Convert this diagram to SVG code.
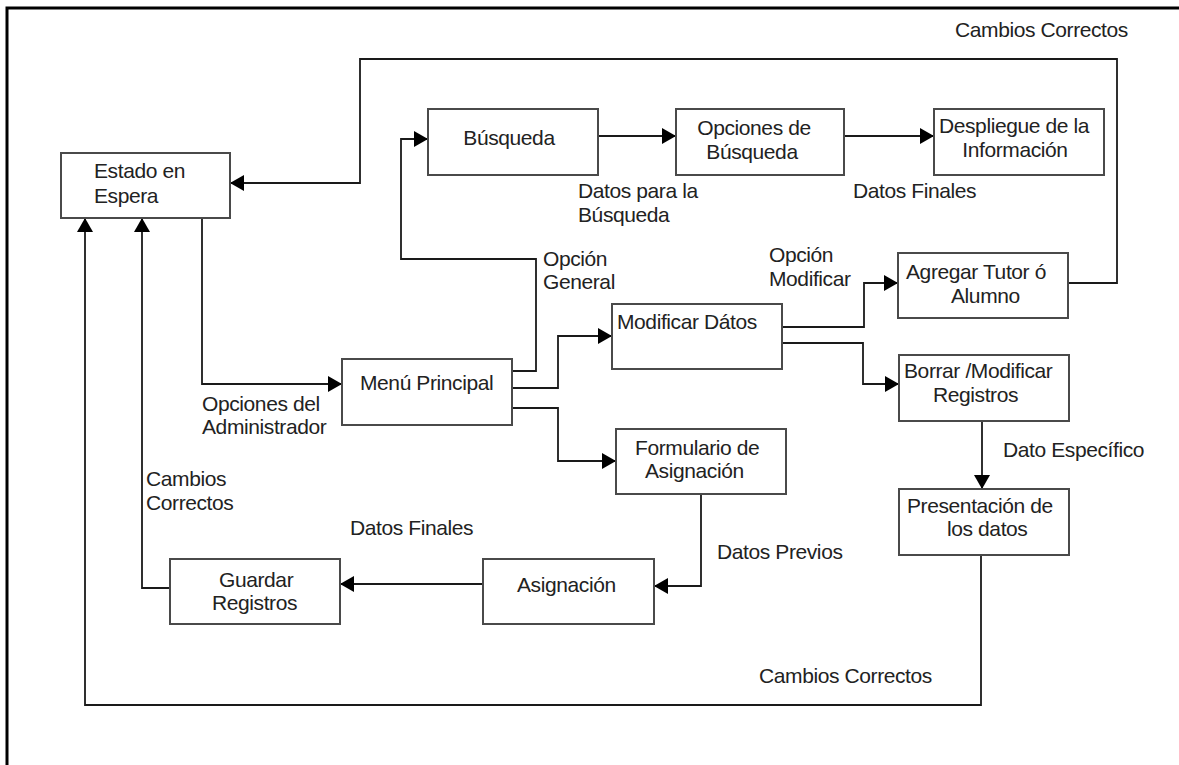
<svg xmlns="http://www.w3.org/2000/svg" width="1179" height="765" viewBox="0 0 1179 765">
<style>
.box{fill:#fff;stroke:#4a4a4a;stroke-width:2}
.con{fill:none;stroke:#1a1a1a;stroke-width:1.8}
text{font-family:"Liberation Sans",Arial,sans-serif;font-size:21px;letter-spacing:-0.4px;fill:#222}
.m{text-anchor:middle}
</style>
<defs>
<marker id="ah" viewBox="0 0 14 16" refX="14" refY="8" markerWidth="14" markerHeight="16" markerUnits="userSpaceOnUse" orient="auto">
<path d="M0,0 L14,8 L0,16 z" fill="#000"/>
</marker>
</defs>
<rect width="1179" height="765" fill="#fff"/>
<path d="M7,765 V8 H1179" fill="none" stroke="#000" stroke-width="3"/>

<g id="connectors">
<path class="con" d="M1068,283 H1117 V59 H360 V183 H230" marker-end="url(#ah)"/>
<path class="con" d="M202,218 V384 H342" marker-end="url(#ah)"/>
<path class="con" d="M512,371 H536 V259 H401 V139 H428" marker-end="url(#ah)"/>
<path class="con" d="M598,136 H676" marker-end="url(#ah)"/>
<path class="con" d="M844,136 H934" marker-end="url(#ah)"/>
<path class="con" d="M512,388 H558 V336 H612" marker-end="url(#ah)"/>
<path class="con" d="M512,408 H558 V461 H616" marker-end="url(#ah)"/>
<path class="con" d="M782,327 H864 V283 H898" marker-end="url(#ah)"/>
<path class="con" d="M782,343 H863 V384 H899" marker-end="url(#ah)"/>
<path class="con" d="M982,421 V489" marker-end="url(#ah)"/>
<path class="con" d="M981,555 V705 H85 V218" marker-end="url(#ah)"/>
<path class="con" d="M701,494 V586 H654" marker-end="url(#ah)"/>
<path class="con" d="M483,584 H340" marker-end="url(#ah)"/>
<path class="con" d="M170,588 H142 V218" marker-end="url(#ah)"/>
</g>

<g id="labels">
<text x="955" y="37">Cambios Correctos</text>
<text x="578" y="198">Datos para la</text>
<text x="578" y="222">Búsqueda</text>
<text x="853" y="198">Datos Finales</text>
<text x="543" y="266">Opción</text>
<text x="543" y="289">General</text>
<text x="769" y="262">Opción</text>
<text x="769" y="286">Modificar</text>
<text x="202" y="411">Opciones del</text>
<text x="202" y="434">Administrador</text>
<text x="146" y="486">Cambios</text>
<text x="146" y="510">Correctos</text>
<text x="350" y="535">Datos Finales</text>
<text x="717" y="559">Datos Previos</text>
<text x="1003" y="457">Dato Específico</text>
<text x="759" y="683">Cambios Correctos</text>
</g>

<g id="estado">
<rect class="box" x="61" y="153" width="169" height="65"/>
<text x="94" y="178">Estado en</text>
<text x="94" y="203">Espera</text>
</g>
<g id="busqueda">
<rect class="box" x="428" y="109" width="170" height="66"/>
<text class="m" x="509" y="145">Búsqueda</text>
</g>
<g id="opciones">
<rect class="box" x="676" y="109" width="168" height="66"/>
<text class="m" x="754" y="135">Opciones de</text>
<text class="m" x="752" y="159">Búsqueda</text>
</g>
<g id="despliegue">
<rect class="box" x="934" y="109" width="170" height="66"/>
<text class="m" x="1014" y="133">Despliegue de la</text>
<text class="m" x="1015" y="157">Información</text>
</g>
<g id="agregar">
<rect class="box" x="898" y="253" width="170" height="65"/>
<text x="906" y="279">Agregar Tutor ó</text>
<text x="951" y="303">Alumno</text>
</g>
<g id="modificar">
<rect class="box" x="612" y="304" width="170" height="65"/>
<text x="617" y="329">Modificar Dátos</text>
</g>
<g id="menu">
<rect class="box" x="342" y="359" width="170" height="66"/>
<text x="360" y="390">Menú Principal</text>
</g>
<g id="borrar">
<rect class="box" x="899" y="355" width="170" height="66"/>
<text x="904" y="378">Borrar /Modificar</text>
<text x="933" y="402">Registros</text>
</g>
<g id="formulario">
<rect class="box" x="616" y="429" width="170" height="65"/>
<text x="635" y="455">Formulario de</text>
<text x="645" y="478">Asignación</text>
</g>
<g id="presentacion">
<rect class="box" x="899" y="489" width="170" height="66"/>
<text x="907" y="513">Presentación de</text>
<text x="947" y="536">los datos</text>
</g>
<g id="guardar">
<rect class="box" x="170" y="559" width="170" height="65"/>
<text x="219" y="587">Guardar</text>
<text x="212" y="610">Registros</text>
</g>
<g id="asignacion">
<rect class="box" x="483" y="559" width="171" height="65"/>
<text x="517" y="592">Asignación</text>
</g>
</svg>
